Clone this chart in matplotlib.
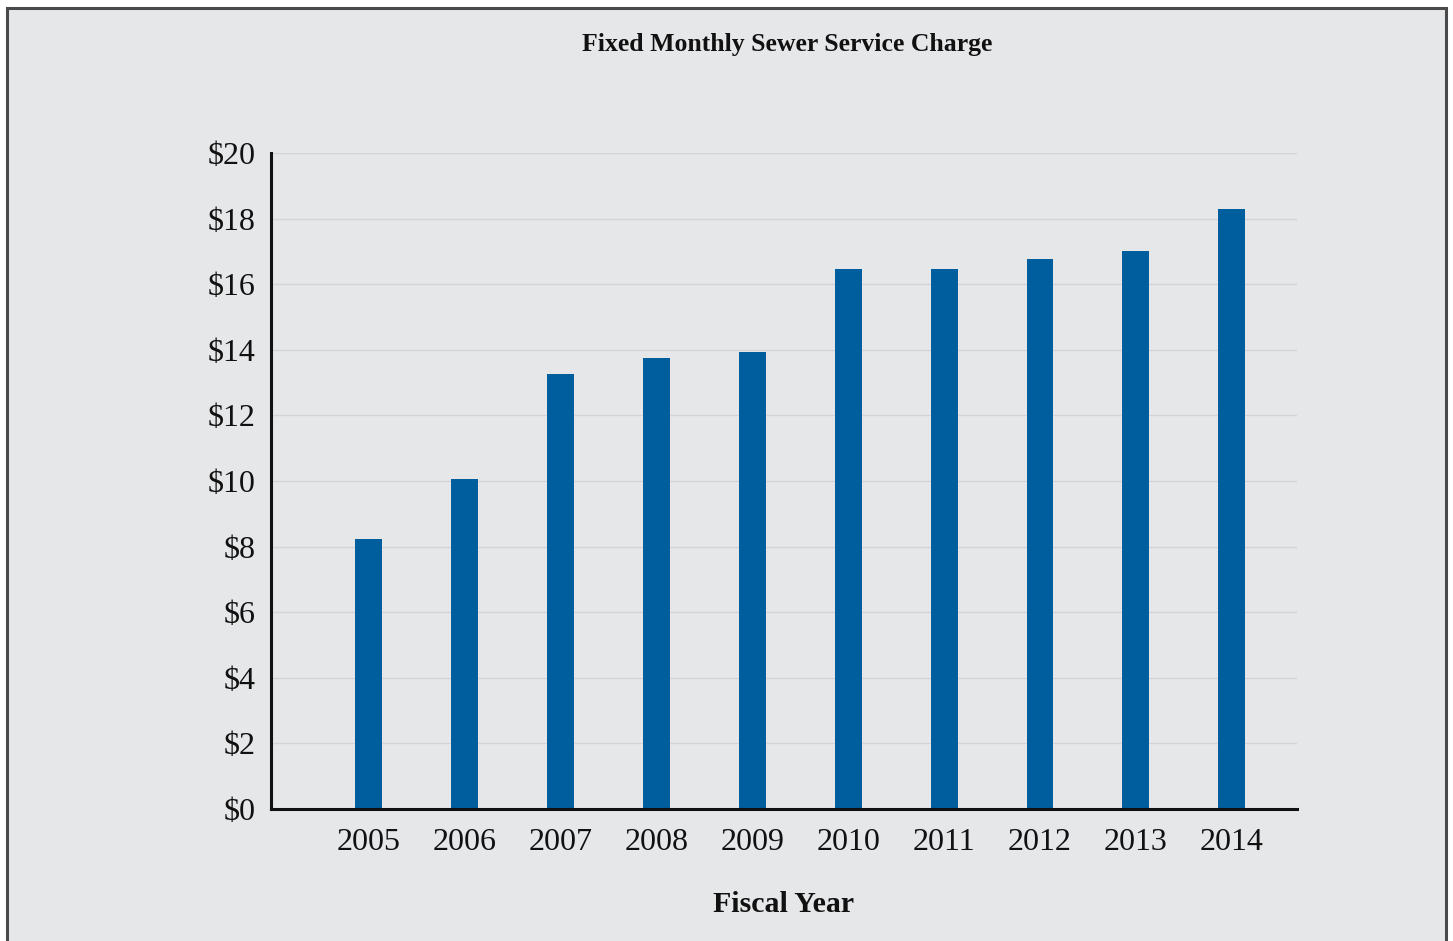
import matplotlib.pyplot as plt
from matplotlib.patches import Rectangle

years = ["2005", "2006", "2007", "2008", "2009", "2010", "2011", "2012", "2013", "2014"]
charges = [8.22, 10.05, 13.25, 13.75, 13.93, 16.46, 16.46, 16.76, 17.02, 18.30]
yticks = [0, 2, 4, 6, 8, 10, 12, 14, 16, 18, 20]

bg = "#e6e7e9"
bar_color = "#005e9e"

plt.rcParams["font.family"] = ["Liberation Serif", "DejaVu Serif"]

fig = plt.figure(figsize=(14.53, 9.41), dpi=100)
fig.patch.set_facecolor("white")

# grey panel with a dark frame
frame = Rectangle((7 / 1453, -0.01), (1446 - 7) / 1453, (941 - 8) / 941 + 0.01,
                  transform=fig.transFigure, facecolor=bg, edgecolor="#4a4a4a",
                  linewidth=2.2, clip_on=False, zorder=-10)
fig.patches.append(frame)

ax = fig.add_axes([271 / 1453, 1 - 809 / 941, (1297 - 271) / 1453, (809 - 153) / 941])
ax.set_facecolor(bg)
ax.patch.set_alpha(0)

x = list(range(len(years)))
ax.bar(x, charges, width=0.28, color=bar_color, zorder=3)

ax.set_xlim(-1.02, 9.68)
ax.set_ylim(0, 20)
ax.set_xticks(x)
ax.set_xticklabels(years)
ax.set_yticks(yticks)
ax.set_yticklabels([f"${v}" for v in yticks])
ax.tick_params(axis="both", length=0, labelsize=23, colors="#111111")
ax.tick_params(axis="y", pad=11)
ax.tick_params(axis="x", pad=14)

ax.grid(axis="y", color="#d3d4d7", linewidth=1.0, zorder=0)
for s in ["top", "right"]:
    ax.spines[s].set_visible(False)
for s in ["left", "bottom"]:
    ax.spines[s].set_linewidth(2.2)
    ax.spines[s].set_color("#111111")
    ax.spines[s].set_zorder(4)

fig.text(787 / 1453, 1 - 45 / 941, "Fixed Monthly Sewer Service Charge",
         ha="center", va="center", fontsize=18.5, fontweight="bold", color="#111111")
fig.text(784 / 1453, 1 - 905 / 941, "Fiscal Year",
         ha="center", va="center", fontsize=21.5, fontweight="bold", color="#111111")

fig.savefig("out.png", dpi=100, facecolor=fig.get_facecolor())
